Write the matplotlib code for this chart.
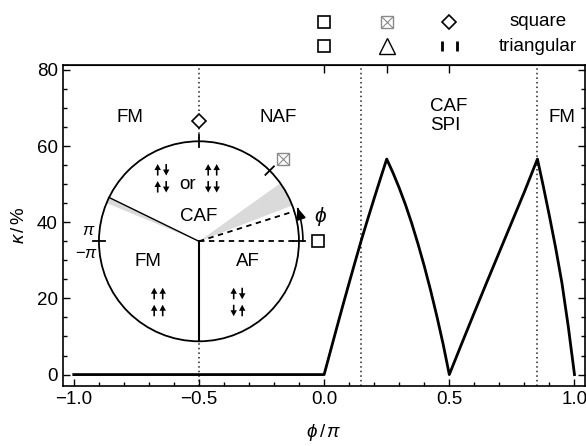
import matplotlib

matplotlib.use("Agg")
import matplotlib.pyplot as plt
import matplotlib.transforms as mtransforms
import numpy as np
from matplotlib.patches import Circle, FancyArrowPatch, Wedge
from matplotlib.path import Path
from matplotlib.ticker import MultipleLocator

plt.rcParams["font.family"] = ["Liberation Sans", "DejaVu Sans"]
plt.rcParams["mathtext.fontset"] = "custom"
plt.rcParams["mathtext.rm"] = "Liberation Sans"
plt.rcParams["mathtext.it"] = "Liberation Sans:italic"
plt.rcParams["font.size"] = 13.5

# kappa(phi)
phi = [-1.0, 0.0, 0.025, 0.05, 0.075, 0.10, 0.125, 0.15, 0.175, 0.20, 0.225, 0.25,
       0.275, 0.30, 0.325, 0.35, 0.375, 0.40, 0.425, 0.45, 0.475, 0.50,
       0.55, 0.60, 0.65, 0.70, 0.75, 0.80, 0.852,
       0.875, 0.90, 0.925, 0.95, 0.975, 1.0]
kappa = [0, 0, 6.1, 12.2, 18.2, 24.1, 29.9, 35.6, 41.0, 46.3, 51.5, 56.6,
         53.0, 49.0, 44.6, 39.7, 34.3, 28.5, 22.2, 15.4, 8.1, 0,
         8.2, 16.3, 24.3, 32.2, 40.1, 48.0, 56.6,
         49.6, 41.6, 33.2, 24.0, 12.7, 0]

# phase boundaries (dotted) and phase labels of the main plot
boundaries = [-0.5, 0.148, 0.852]
phase_labels = ["FM", "NAF", "CAF\nSPI", "FM"]
phase_x = [-0.774, -0.185, 0.423, 0.95]
phase_y = [67.4, 67.4, 67.8, 67.4]

# special angles marked on top (square / triangular lattice)
special_phi = [0.0, 0.25, 0.5]
lattice_labels = ["square", "triangular"]

# inset phase circle (angles in degrees)
circle_center = (-0.5, 35.0)
gray_wedges = [(21.0, 35.5), (154.0, 157.5)]
solid_rays = [270.0, 154.0]
dashed_rays = [0.0, 17.5]
circle_ticks = [0.0, 45.0, 90.0, 180.0]
phi_arc = (0.0, 19.0)
inner_labels = ["CAF", "FM", "AF", "or"]
inner_xy = [(0.0, 0.25), (-0.51, -0.2), (0.49, -0.2), (-0.11, 0.57)]
spin_groups = [(-0.37, 0.63, [[1, -1], [1, -1]]),
               (0.135, 0.63, [[1, 1], [-1, -1]]),
               (-0.405, -0.607, [[1, 1], [1, 1]]),
               (0.39, -0.607, [[1, -1], [-1, 1]])]

W, H = 586, 446
fig = plt.figure(figsize=(W / 100, H / 100), dpi=100)
ax = fig.add_axes([62.5 / W, 60 / H, 522 / W, 321 / H])

for b in boundaries:
    ax.axvline(b, color="#222222", lw=1.1, ls=(0, (1, 2)), zorder=1)
ax.plot(phi, kappa, color="black", lw=2.0, zorder=3)

ax.set_xlim(-1.045, 1.04)
ax.set_ylim(-3, 81.3)
ax.xaxis.set_major_locator(MultipleLocator(0.5))
ax.xaxis.set_minor_locator(MultipleLocator(0.1))
ax.yaxis.set_major_locator(MultipleLocator(20))
ax.yaxis.set_minor_locator(MultipleLocator(5))
ax.tick_params(which="both", direction="in", right=True, top=False, width=1.0)
ax.tick_params(which="major", length=5)
ax.tick_params(which="minor", length=3)
for s in ax.spines.values():
    s.set_linewidth(1.2)
ax.set_xlabel(r"$\phi\,/\,\pi$", labelpad=10)
ax.set_ylabel(r"$\kappa\,/\,\%$", labelpad=6)

top = ax.secondary_xaxis("top")
top.set_xticks(special_phi)
top.set_xticklabels([])
top.tick_params(direction="in", length=6, width=1.0)

for lab, x, y in zip(phase_labels, phase_x, phase_y):
    ha = "left" if "\n" in lab else "center"
    ax.text(x, y, lab, ha=ha, va="center", linespacing=1.15)

# lattice legend above the axes
tr = mtransforms.blended_transform_factory(ax.transData, ax.transAxes)
row_y = [1.135, 1.059]
mk = dict(transform=tr, clip_on=False, ls="none", mfc="white", mec="black", mew=1.2)
ax.plot([special_phi[0]], [row_y[0]], marker="s", ms=9, **mk)
ax.plot([special_phi[1]], [row_y[0]], marker="s", ms=9, transform=tr, clip_on=False,
        ls="none", mfc="white", mec="#8a8a8a", mew=1.0)
ax.plot([special_phi[1]], [row_y[0]], marker="x", ms=9, transform=tr, clip_on=False,
        ls="none", mec="#8a8a8a", mew=0.8)
ax.plot([special_phi[2]], [row_y[0]], marker="D", ms=7.5, **mk)
ax.plot([special_phi[0]], [row_y[1]], marker="s", ms=9, **mk)
ax.plot([special_phi[1]], [row_y[1]], marker="^", ms=11, transform=tr, clip_on=False,
        ls="none", mfc="white", mec="black", mew=1.0)
ax.plot([special_phi[2] - 0.03, special_phi[2] + 0.03], [row_y[1]] * 2, marker="|",
        ms=7, mew=2.0, color="black", ls="none", transform=tr, clip_on=False)
for lab, y in zip(lattice_labels, row_y):
    ax.text(0.853, y, lab, transform=tr, ha="center", va="center")

# inset: phase circle
R_PX = 100.0
half = 1.35 * R_PX
cx, cy = ax.transData.transform(circle_center)
ax_in = fig.add_axes([(cx - half) / W, (cy - half) / H, 2 * half / W, 2 * half / H])
ax_in.set_xlim(-1.35, 1.35)
ax_in.set_ylim(-1.35, 1.35)
ax_in.set_aspect("equal")
ax_in.axis("off")

ax_in.add_patch(Circle((0, 0), 1.0, fc="white", ec="none", zorder=1))
for a0, a1 in gray_wedges:
    ax_in.add_patch(Wedge((0, 0), 1.0, a0, a1, fc="#dadada", ec="none", zorder=2))
ax_in.add_patch(Circle((0, 0), 1.0, fc="none", ec="black", lw=1.3, zorder=4))

for i, a in enumerate(solid_rays):
    t = np.deg2rad(a)
    ax_in.plot([0, np.cos(t)], [0, np.sin(t)], color="black",
               lw=1.5 if i == 0 else 1.0, zorder=3)
for a in dashed_rays:
    t = np.deg2rad(a)
    ax_in.plot([0, np.cos(t)], [0, np.sin(t)], color="black", lw=1.3,
               ls=(0, (3, 2.5)), zorder=3)
for a in circle_ticks:
    t = np.deg2rad(a)
    ax_in.plot([0.94 * np.cos(t), 1.06 * np.cos(t)], [0.94 * np.sin(t), 1.06 * np.sin(t)],
               color="black", lw=1.3, zorder=4)

arc_t = np.deg2rad(np.linspace(phi_arc[0], phi_arc[1], 30))
arc = Path(np.column_stack([1.04 * np.cos(arc_t), 1.04 * np.sin(arc_t)]))
ax_in.add_patch(FancyArrowPatch(path=arc, arrowstyle="-|>,head_length=7,head_width=2.8",
                                color="black", lw=1.2, zorder=5))
ax_in.text(1.22, 0.25, r"$\phi$", ha="center", va="center", fontsize=15)

# special-angle markers on the circle
ax_in.plot([1.19], [0.0], marker="s", ms=9, ls="none", mfc="white", mec="black", mew=1.2,
           clip_on=False, zorder=5)
t45 = np.deg2rad(44.5)
ax_in.plot([1.18 * np.cos(t45)], [1.18 * np.sin(t45)], marker="s", ms=9, ls="none",
           mfc="white", mec="#8a8a8a", mew=1.0, clip_on=False, zorder=5)
ax_in.plot([1.18 * np.cos(t45)], [1.18 * np.sin(t45)], marker="x", ms=9, ls="none",
           mec="#8a8a8a", mew=0.8, clip_on=False, zorder=5)
ax_in.plot([0.0], [1.2], marker="D", ms=7.5, ls="none", mfc="white", mec="black", mew=1.2,
           clip_on=False, zorder=5)

ax_in.text(-1.10, 0.11, r"$\pi$", ha="center", va="center", fontsize=12)
ax_in.text(-1.12, -0.12, r"$-\pi$", ha="center", va="center", fontsize=12)

for lab, (x, y) in zip(inner_labels, inner_xy):
    ax_in.text(x, y, lab, ha="center", va="center", zorder=6)

# spin configurations, drawn as small filled arrows
L, DX, DY = 0.115, 0.085, 0.17
for gx, gy, pattern in spin_groups:
    for r, row in enumerate(pattern):
        for c, s in enumerate(row):
            x = gx + (c - 0.5) * DX
            y = gy + (0.5 - r) * DY
            ax_in.arrow(x, y - s * L / 2, 0, s * L, width=0.016, head_width=0.065,
                        head_length=0.06, length_includes_head=True,
                        fc="black", ec="none", zorder=6)

fig.savefig("out.png", dpi=100)
